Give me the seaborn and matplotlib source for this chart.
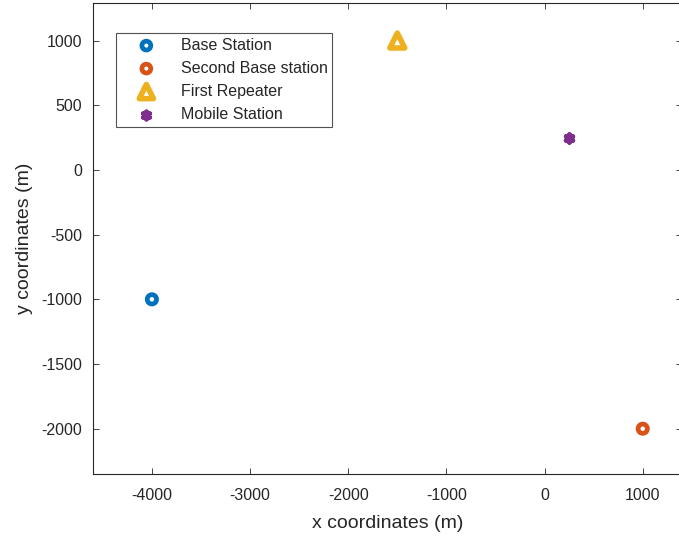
import matplotlib
matplotlib.use("Agg")
import matplotlib.pyplot as plt
import seaborn as sns
import pandas as pd

# Station positions (m)
labels = ["Base Station", "Second Base station", "First Repeater", "Mobile Station"]
x_pos = [-4000, 1000, -1500, 250]
y_pos = [-1000, -2000, 1000, 250]
colors = ["#0072BD", "#D95319", "#EDB120", "#7E2F8E"]

x_ticks = [-4000, -3000, -2000, -1000, 0, 1000]
y_ticks = [-2000, -1500, -1000, -500, 0, 500, 1000]

sns.set_theme(style="white")
plt.rcParams["font.family"] = ["Liberation Sans", "DejaVu Sans"]
plt.rcParams["axes.unicode_minus"] = False

fig = plt.figure(figsize=(6.79, 5.37), dpi=100)
ax = fig.add_axes([93 / 679, 63 / 537, 589 / 679, 471 / 537])

df = pd.DataFrame({"x": x_pos, "y": y_pos, "label": labels})

styles = [
    dict(marker="o", s=45, linewidth=3.4, fc="none", ec=colors[0]),
    dict(marker="o", s=45, linewidth=3.4, fc="none", ec=colors[1]),
    dict(marker="^", s=115, linewidth=4.0, fc="none", ec=colors[2]),
    dict(marker=(6, 2, 0), s=32, linewidth=3.3),
]

for i, row in df.iterrows():
    sns.scatterplot(x=[row["x"]], y=[row["y"]], ax=ax, label=row["label"],
                    color=colors[i], **styles[i], zorder=3)

ax.set_xlim(-4600, 1400)
ax.set_ylim(-2350, 1290)
ax.set_xticks(x_ticks)
ax.set_yticks(y_ticks)

text_c = "#262626"
for side in ["left", "right", "top", "bottom"]:
    ax.spines[side].set_visible(True)
    ax.spines[side].set_color(text_c)
    ax.spines[side].set_linewidth(0.8)
ax.tick_params(axis="both", direction="in", length=4, width=0.6, colors=text_c,
               labelsize=11.5, top=True, right=True, bottom=True, left=True)
ax.tick_params(axis="x", pad=10)
ax.tick_params(axis="y", pad=8)

ax.set_xlabel("x coordinates (m)", fontsize=14, color=text_c, labelpad=9)
ax.set_ylabel("y coordinates (m)", fontsize=14, color=text_c, labelpad=6)

leg = ax.legend(loc="upper left", bbox_to_anchor=(116 / 679, 1 - 33 / 537),
                bbox_transform=fig.transFigure, fontsize=11.5, frameon=True,
                fancybox=False, borderpad=0.3, labelspacing=0.5,
                handletextpad=0.55, borderaxespad=0, handlelength=3.2,
                markerscale=0.95)
leg.get_frame().set_edgecolor(text_c)
leg.get_frame().set_linewidth(0.8)
for t in leg.get_texts():
    t.set_color(text_c)

fig.savefig("out.png", dpi=100)
